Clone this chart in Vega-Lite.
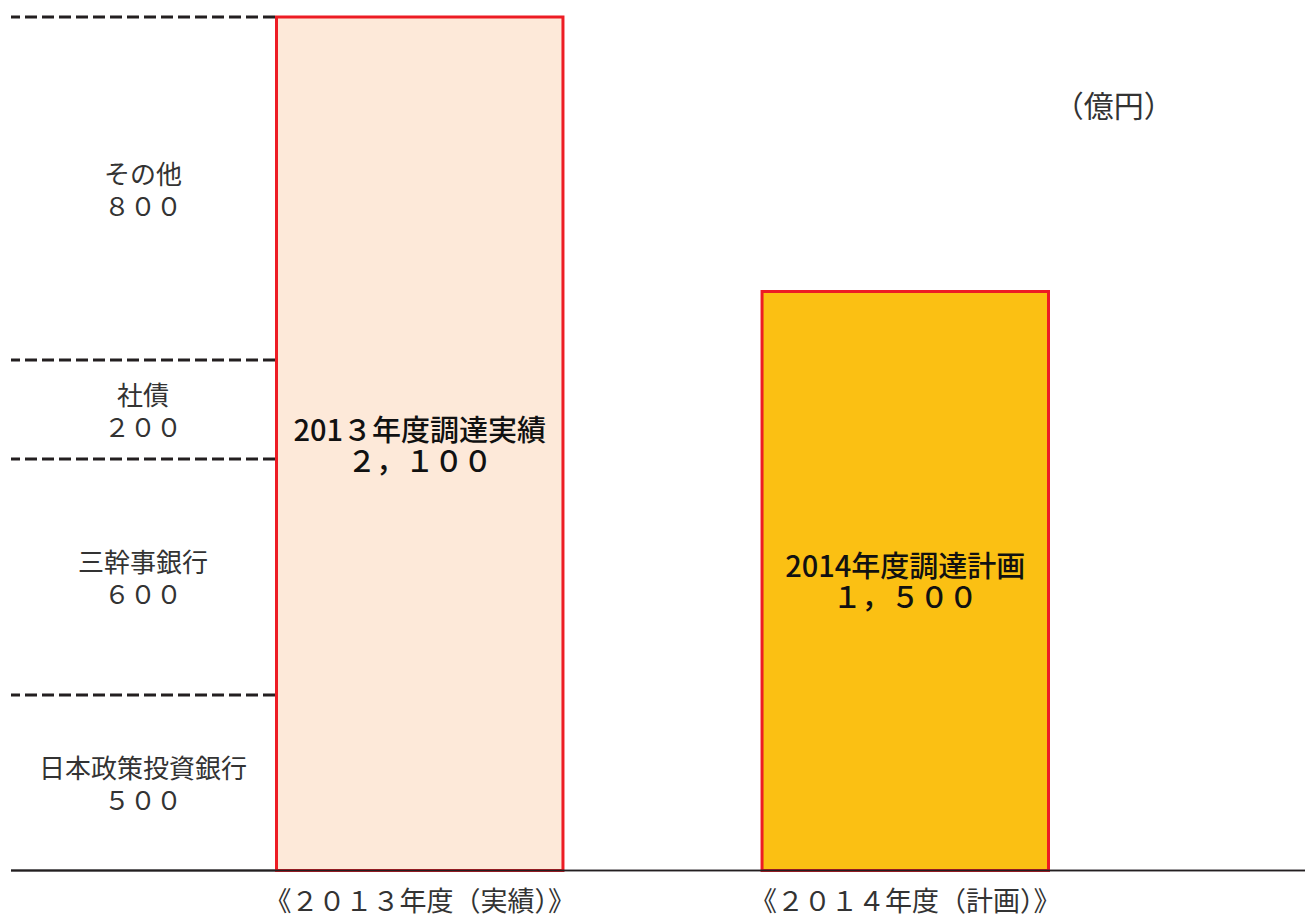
{
  "$schema": "https://vega.github.io/schema/vega-lite/v6.json",
  "padding": {"left": 9, "top": 0, "right": 0, "bottom": 0},
  "background": "white",
  "spacing": 0,
  "bounds": "flush",
  "config": {"view": {"stroke": null}, "font": "Noto Sans CJK JP", "concat": {"spacing": 0}},
  "datasets": {
    "breakdown": [
      {"source": "日本政策投資銀行", "amount": 500, "rank": 1, "label": "日本政策投資銀行\n５００"},
      {"source": "三幹事銀行", "amount": 600, "rank": 2, "label": "三幹事銀行\n６００"},
      {"source": "社債", "amount": 200, "rank": 3, "label": "社債\n２００"},
      {"source": "その他", "amount": 800, "rank": 4, "label": "その他\n８００"}
    ],
    "totals": [
      {"year": "《２０１３年度（実績）》", "total": 2100, "kind": "実績", "label": "201３年度調達実績\n２，１００"},
      {"year": "《２０１４年度（計画）》", "total": 1500, "kind": "計画", "label": "2014年度調達計画\n１，５００"}
    ]
  },
  "hconcat": [
    {
      "width": 264,
      "height": 872,
      "data": {"name": "breakdown"},
      "layer": [
        {
          "mark": {"type": "rule", "strokeDash": [12, 5], "strokeWidth": 3, "color": "#231f20"},
          "encoding": {
            "y": {"field": "amount", "type": "quantitative", "stack": "zero", "axis": null,
                  "scale": {"domain": [0, 500, 1100, 1300, 2100], "range": [870.5, 695, 459, 360, 17], "nice": false, "zero": false}},
            "detail": {"field": "source"},
            "order": {"field": "rank"}
          }
        },
        {
          "mark": {"type": "text", "fontSize": 26, "lineBreak": "\n", "lineHeight": 32, "color": "#333333", "baseline": "middle", "align": "center", "dy": -13},
          "encoding": {
            "y": {"field": "amount", "type": "quantitative", "stack": "zero", "bandPosition": 0.5, "axis": null,
                  "scale": {"domain": [0, 500, 1100, 1300, 2100], "range": [870.5, 695, 459, 360, 17], "nice": false, "zero": false}},
            "detail": {"field": "source"},
            "order": {"field": "rank"},
            "text": {"field": "label"}
          }
        },
        {
          "mark": {"type": "rule", "color": "#231f20", "strokeWidth": 1.5},
          "encoding": {
            "y": {"datum": 0, "type": "quantitative", "axis": null,
                  "scale": {"domain": [0, 500, 1100, 1300, 2100], "range": [870.5, 695, 459, 360, 17], "nice": false, "zero": false}}
          }
        }
      ]
    },
    {
      "width": 1030,
      "height": 872,
      "data": {"name": "totals"},
      "title": {"text": "（億円）", "anchor": "end", "orient": "top", "offset": -123, "dx": -132, "fontSize": 30, "fontWeight": "normal", "color": "#333333", "font": "Noto Sans CJK JP"},
      "encoding": {
        "x": {"field": "year", "type": "nominal", "sort": null,
              "scale": {"paddingInner": 0.41, "paddingOuter": 0.0031, "rangeMax": 775},
              "axis": {"title": null, "domain": false, "ticks": false, "labelAngle": 0, "labelPadding": 17, "labelLimit": 0, "labelFontSize": 27, "labelColor": "#333333", "labelFont": "Noto Sans CJK JP"}}
      },
      "layer": [
        {
          "mark": {"type": "bar", "stroke": "#ed1c24", "strokeWidth": 3},
          "encoding": {
            "y": {"field": "total", "type": "quantitative", "axis": null,
                  "scale": {"domain": [0, 1500, 2100], "range": [870.5, 291.5, 17], "nice": false, "zero": false}},
            "fill": {"field": "kind", "type": "nominal", "legend": null,
                     "scale": {"domain": ["実績", "計画"], "range": ["#fde9d9", "#fbc013"]}}
          }
        },
        {
          "transform": [{"filter": "datum.kind === '実績'"}],
          "mark": {"type": "text", "fontSize": 29, "fontWeight": 500, "lineBreak": "\n", "lineHeight": 31, "color": "#111111", "baseline": "middle", "align": "center", "dy": -13},
          "encoding": {
            "y": {"field": "total", "type": "quantitative", "stack": "zero", "bandPosition": 0.5255, "axis": null,
                  "scale": {"domain": [0, 1500, 2100], "range": [870.5, 291.5, 17], "nice": false, "zero": false}},
            "text": {"field": "label"}
          }
        },
        {
          "transform": [{"filter": "datum.kind === '計画'"}],
          "mark": {"type": "text", "fontSize": 29, "fontWeight": 500, "lineBreak": "\n", "lineHeight": 31, "color": "#111111", "baseline": "middle", "align": "center", "dy": -13},
          "encoding": {
            "y": {"field": "total", "type": "quantitative", "stack": "zero", "bandPosition": 0.5, "axis": null,
                  "scale": {"domain": [0, 1500, 2100], "range": [870.5, 291.5, 17], "nice": false, "zero": false}},
            "text": {"field": "label"}
          }
        },
        {
          "mark": {"type": "rule", "color": "#231f20", "strokeWidth": 1.5},
          "encoding": {
            "x": {"value": 0},
            "x2": {"value": 1030},
            "y": {"datum": 0, "type": "quantitative", "axis": null,
                  "scale": {"domain": [0, 1500, 2100], "range": [870.5, 291.5, 17], "nice": false, "zero": false}}
          }
        }
      ]
    }
  ]
}
